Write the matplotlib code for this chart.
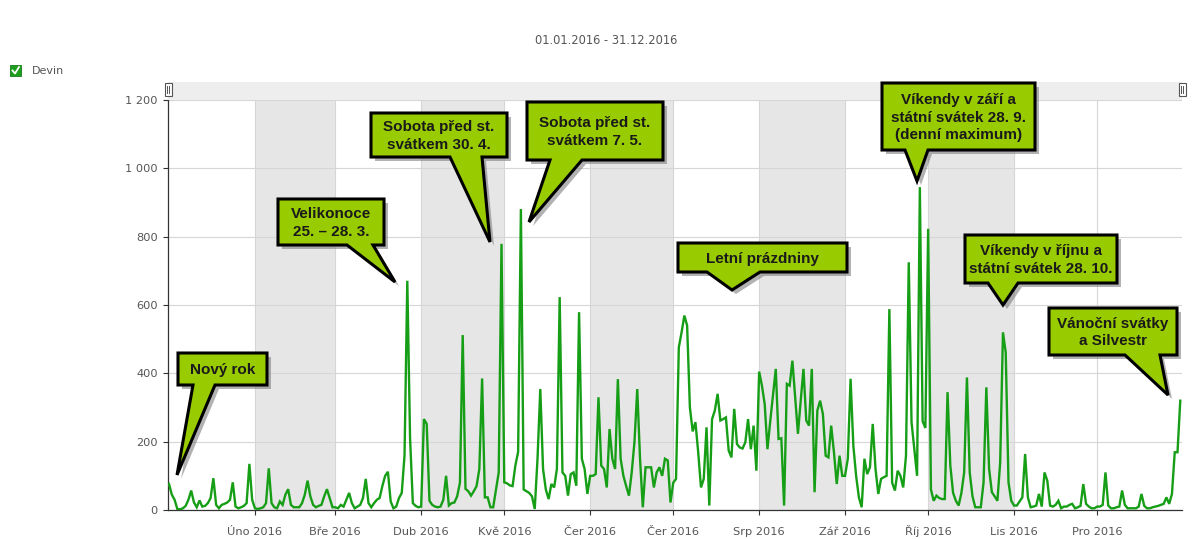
import numpy as np
import pandas as pd
import matplotlib
matplotlib.use('Agg')
import matplotlib.pyplot as plt
from matplotlib.patches import Polygon, Rectangle

# daily visitors 2016, one list per month
jan = [76, 45, 30, 3, 2, 5, 12, 30, 57, 22, 8, 28, 10, 12, 20, 35, 93, 15, 5, 15,
       18, 22, 30, 81, 10, 5, 8, 12, 20, 135, 30]
feb = [5, 3, 5, 8, 20, 122, 20, 8, 5, 25, 15, 45, 61, 15, 8, 8, 8, 20, 45, 86,
       40, 15, 8, 12, 15, 40, 61, 35, 8]
mar = [8, 5, 15, 10, 30, 50, 20, 5, 10, 15, 35, 91, 20, 8, 20, 30, 35, 70, 100, 112,
       25, 5, 10, 35, 50, 160, 671, 210, 20, 12, 8]
apr = [10, 266, 252, 27, 15, 10, 8, 10, 30, 100, 13, 20, 22, 40, 80, 512, 62, 55, 42, 55,
       70, 120, 385, 37, 37, 8, 8, 60, 110, 779]
may = [81, 78, 72, 70, 130, 170, 881, 60, 55, 50, 40, 3, 150, 354, 120, 60, 32, 76, 66, 120,
       623, 110, 100, 42, 105, 110, 71, 579, 150, 120, 47]
jun = [100, 100, 105, 330, 130, 120, 66, 237, 150, 120, 383, 150, 100, 70, 42, 110, 200, 354, 150, 8,
       125, 125, 125, 66, 110, 125, 100, 150, 145, 22]
jul = [80, 91, 476, 520, 569, 540, 300, 230, 257, 169, 66, 91, 242, 13, 266, 291, 340, 262, 266, 271,
       174, 154, 296, 193, 183, 180, 198, 266, 178, 247, 115]
aug = [405, 364, 310, 178, 260, 335, 413, 208, 210, 13, 369, 364, 437, 330, 223, 320, 413, 262, 247, 413,
       52, 291, 320, 281, 159, 154, 247, 169, 76, 159, 100]
sep = [100, 150, 384, 188, 100, 37, 8, 150, 105, 125, 252, 120, 47, 91, 96, 100, 588, 80, 57, 115,
       100, 66, 159, 725, 257, 178, 100, 945, 260, 240]
oct_ = [823, 60, 27, 42, 35, 32, 32, 345, 130, 50, 27, 13, 50, 110, 388, 110, 40, 8, 8, 8,
        81, 359, 120, 52, 40, 27, 140, 520, 461, 81, 27]
nov = [13, 13, 25, 37, 164, 37, 8, 10, 13, 47, 10, 110, 86, 13, 10, 15, 27, 5, 10, 10,
       15, 18, 5, 8, 12, 76, 18, 10, 5, 5]
dec = [10, 10, 15, 110, 13, 5, 5, 8, 10, 57, 15, 5, 5, 5, 5, 10, 47, 12, 5, 5,
       8, 10, 12, 15, 18, 37, 18, 47, 169, 169, 320]

month_labels = ['Úno 2016', 'Bře 2016', 'Dub 2016', 'Kvě 2016', 'Čer 2016', 'Čer 2016',
                'Srp 2016', 'Zář 2016', 'Říj 2016', 'Lis 2016', 'Pro 2016']
y_ticks = [0, 200, 400, 600, 800, 1000, 1200]
shaded_months = [2, 4, 6, 8, 10]

# text, box (x0, y0, x1, y1), pointer base (x0, x1), pointer tip -- figure pixels
callouts = [
    ('Nový rok', (178, 353, 267, 385), (193, 215), (177, 475)),
    ('Velikonoce\n25. – 28. 3.', (278, 199, 384, 245), (347, 373), (395, 282)),
    ('Sobota před st.\nsvátkem 30. 4.', (371, 113, 507, 157), (450, 482), (490, 242)),
    ('Sobota před st.\nsvátkem 7. 5.', (527, 102, 663, 160), (550, 582), (529, 222)),
    ('Letní prázdniny', (678, 243, 847, 272), (707, 760), (732, 290)),
    ('Víkendy v září a\nstátní svátek 28. 9.\n(denní maximum)', (882, 83, 1035, 150), (905, 928), (917, 181)),
    ('Víkendy v říjnu a\nstátní svátek 28. 10.', (965, 235, 1117, 283), (988, 1018), (1003, 305)),
    ('Vánoční svátky\na Silvestr', (1049, 308, 1177, 355), (1125, 1160), (1168, 395)),
]

values = jan + feb + mar + apr + may + jun + jul + aug + sep + oct_ + nov + dec
dates = pd.date_range('2016-01-01', '2016-12-31', freq='D')
df = pd.DataFrame({'date': dates, 'visits': values})

plt.rcParams['font.family'] = 'DejaVu Sans'

W, H = 1195, 539
fig = plt.figure(figsize=(W / 100, H / 100), dpi=100)
ax = fig.add_axes([168 / W, 29 / H, 1014 / W, 410 / H])

month_starts = pd.date_range('2016-01-01', '2017-01-01', freq='MS')
for m in shaded_months:
    ax.axvspan(month_starts[m - 1], month_starts[m], color='#e6e6e6', lw=0, zorder=0)

ax.plot(df['date'], df['visits'], color='#169e16', lw=1.7, zorder=3, solid_joinstyle='miter')

ax.set_xlim(dates[0] - pd.Timedelta(hours=9), dates[-1] + pd.Timedelta(hours=15))
ax.set_ylim(0, 1200)
ax.set_yticks(y_ticks)
ax.set_yticklabels([f'{v:,}'.replace(',', '\u00a0') for v in y_ticks])
ax.set_xticks(month_starts[1:12])
ax.set_xticklabels(month_labels, va='baseline')

ax.set_axisbelow(True)
ax.grid(True, color='#d6d6d6', lw=0.8)
ax.tick_params(axis='both', colors='#333333', labelcolor='#555555', labelsize=8.2,
               length=3.8, width=0.8, direction='out')
ax.tick_params(axis='x', pad=14.2)
for s in ['top', 'right']:
    ax.spines[s].set_visible(False)
for s in ['left', 'bottom']:
    ax.spines[s].set_color('#333333')
    ax.spines[s].set_linewidth(0.9)

# overlay in pixel coordinates for scrollbar, legend and callouts
ov = fig.add_axes([0, 0, 1, 1], zorder=5)
ov.set_xlim(0, W)
ov.set_ylim(H, 0)
ov.axis('off')
ov.patch.set_alpha(0)

ov.add_patch(Rectangle((168, 82), 1014, 18, facecolor='#eeeeee', edgecolor='none', zorder=1))
for hx in [165, 1179]:
    ov.add_patch(Rectangle((hx, 83), 7, 13, facecolor='white', edgecolor='#555555', lw=0.8, zorder=2))
    ov.plot([hx + 2.5, hx + 2.5], [86, 93], color='#555555', lw=0.7, zorder=2)
    ov.plot([hx + 4.5, hx + 4.5], [86, 93], color='#555555', lw=0.7, zorder=2)

fig.text(606 / W, 1 - 40 / H, '01.01.2016 - 31.12.2016', ha='center', va='center',
         color='#555555', fontsize=8.3)

ov.add_patch(Rectangle((10, 65), 11, 11, facecolor='#1e9e1e', edgecolor='#167a16', lw=0.6, zorder=2))
ov.plot([12.5, 15, 19], [70.5, 73.5, 67], color='white', lw=1.3, zorder=3)
ov.text(32, 71, 'Devin', color='#555555', fontsize=8, va='center', ha='left')

for text, (x0, y0, x1, y1), (bx0, bx1), (tx, ty) in callouts:
    pts = [(x0, y0), (x1, y0), (x1, y1), (bx1, y1), (tx, ty), (bx0, y1), (x0, y1)]
    shadow = [(px + 4, py + 4) for px, py in pts]
    ov.add_patch(Polygon(shadow, closed=True, facecolor='#808080', alpha=0.6,
                         edgecolor='none', zorder=6))
    ov.add_patch(Polygon(pts, closed=True, facecolor='#99cc00', edgecolor='black',
                         lw=2.2, joinstyle='miter', zorder=7))
    ov.text((x0 + x1) / 2, (y0 + y1) / 2 + 1, text, ha='center', va='center',
            fontsize=11, fontweight='bold', color='#1a1a1a', family='Liberation Sans',
            linespacing=1.3, zorder=8)

fig.savefig('out.png', dpi=100)
